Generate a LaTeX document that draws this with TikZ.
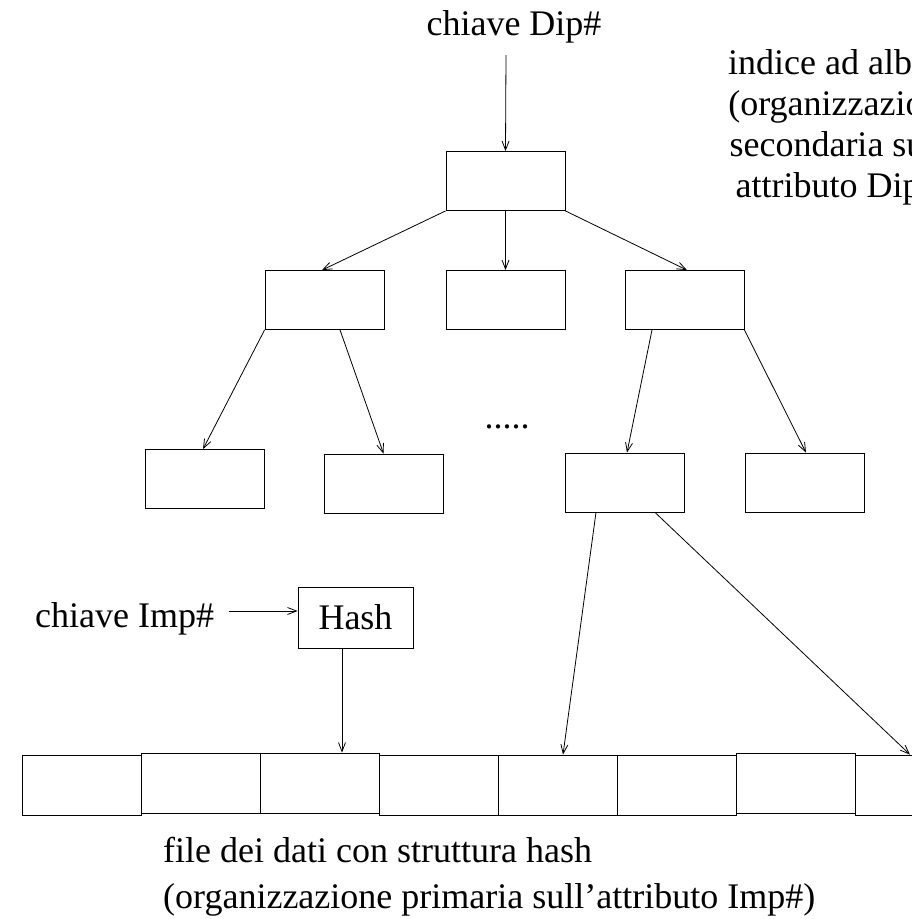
\documentclass[tikz,border=0pt]{standalone}
\usepackage{fontspec}
\setmainfont{Liberation Serif}
\usetikzlibrary{arrows.meta}
\tikzset{
  box/.style={draw, line width=0.8pt, minimum width=119pt, minimum height=59pt, inner sep=0pt},
  cell/.style={draw, line width=0.8pt, minimum width=119pt, minimum height=60pt, inner sep=0pt},
  arr/.style={line width=0.8pt, -{Straight Barb[length=9pt,width=7pt]}},
  lbl/.style={font=\fontsize{36}{43}\selectfont, inner sep=0pt}
}
\begin{document}
\begin{tikzpicture}[x=1pt,y=-1pt]
\clip (0,0) rectangle (912,919);
\fill[white] (0,0) rectangle (912,919);
% text
\node[lbl, anchor=base] (dip) at (514,35) {chiave Dip\#};
\node[lbl, anchor=base] (idx1) at (843,74) {indice ad albero};
\node[lbl, anchor=base] (idx2) at (843,115) {(organizzazione};
\node[lbl, anchor=base] (idx3) at (843,156) {secondaria sull’};
\node[lbl, anchor=base] (idx4) at (843,197) {attributo Dip\#)};
\node[lbl, anchor=base west] (imp) at (35,627) {chiave Imp\#};
\node[lbl, anchor=base west] (file) at (163,862) {file dei dati con struttura hash};
\node[lbl, anchor=base west] (org) at (163,908) {(organizzazione primaria sull’attributo Imp\#)};
\node[lbl, anchor=base] (dots) at (507,428) {.....};
% tree
\node[box] (root) at (505.5,181) {};
\node[box] (L) at (324.5,300) {};
\node[box] (M) at (505.5,300) {};
\node[box] (R) at (684.5,300) {};
\node[box] (A) at (204.5,479) {};
\node[box] (B) at (383.5,483.5) {};
\node[box] (C) at (624.5,482.5) {};
\node[box] (D) at (804.5,482.5) {};
% hash
\node[draw, line width=0.8pt, minimum width=115pt, minimum height=61pt, inner sep=0pt, lbl] (hash) at (355.5,617.5) {Hash};
% data file
\node[cell] (c1) at (81.5,785) {};
\node[cell] (c2) at (200.5,783) {};
\node[cell] (c3) at (319.5,783) {};
\node[cell] (c4) at (438.5,785) {};
\node[cell] (c5) at (557.5,785) {};
\node[cell] (c6) at (676.5,785) {};
\node[cell] (c7) at (795.5,783) {};
\node[cell] (c8) at (914.5,785) {};
% arrows
\draw[arr] ([xshift=-8pt,yshift=-20pt]dip.base) -- ([xshift=-8.5pt]dip.base |- root.north);
\draw[arr] (root.south west) -- ([xshift=-2.5pt]L.north);
\draw[arr] (root.south) -- (M.north);
\draw[arr] (root.south east) -- ([xshift=2.5pt]R.north);
\draw[arr] (L.south west) -- ([xshift=-1.5pt]A.north);
\draw[arr] ([xshift=15.5pt]L.south) -- (B.north);
\draw[arr] ([xshift=-32.5pt]R.south) -- ([xshift=2.5pt]C.north);
\draw[arr] (R.south east) -- ([xshift=1.5pt]D.north);
\draw[arr] ([xshift=-28.5pt]C.south) -- ([xshift=5.5pt]c5.north);
\draw[arr] ([xshift=30.5pt]C.south) -- ([xshift=-4.5pt]c8.north);
\draw[arr] ([xshift=15pt,yshift=16pt]imp.base east) -- ([yshift=16pt]hash.west |- imp.base east);
\draw[arr] ([xshift=-13.5pt]hash.south) -- ([xshift=-13.5pt]hash.south |- c3.north);
\end{tikzpicture}
\end{document}
